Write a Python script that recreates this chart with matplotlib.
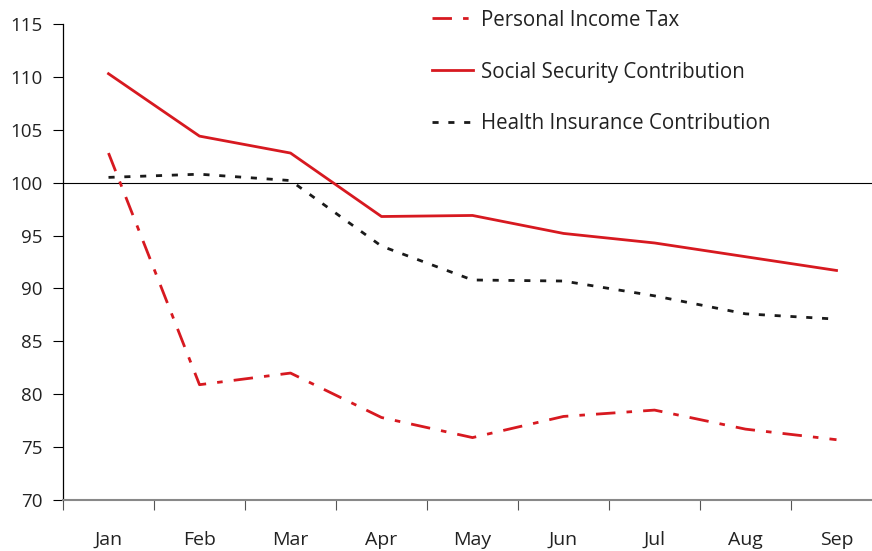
import matplotlib.pyplot as plt
import numpy as np

months = ["Jan", "Feb", "Mar", "Apr", "May", "Jun", "Jul", "Aug", "Sep"]
personal_income_tax = [102.8, 80.9, 82.0, 77.8, 75.9, 77.9, 78.5, 76.7, 75.7]
social_security = [110.3, 104.4, 102.8, 96.8, 96.9, 95.2, 94.3, 93.0, 91.7]
health_insurance = [100.5, 100.8, 100.2, 94.0, 90.8, 90.7, 89.3, 87.6, 87.1]

red = "#d71920"
plt.rcParams['font.family'] = ['Open Sans', 'DejaVu Sans']

fig = plt.figure(figsize=(8.72, 5.51), dpi=100)
ax = fig.add_axes([63/872, 1 - 500/551, 1 - 63/872, (500 - 24)/551])

x = np.arange(len(months))
ax.plot(x, personal_income_tax, color=red, lw=2.0, linestyle=(0, (7, 4, 2, 4)),
        label="Personal Income Tax")
ax.plot(x, social_security, color=red, lw=2.0, label="Social Security Contribution")
ax.plot(x, health_insurance, color="#1a1a1a", lw=2.0, linestyle=(0, (2.2, 3.5)),
        label="Health Insurance Contribution")

ax.axhline(100, color="black", lw=0.8, zorder=1)

ax.set_xlim(-0.5, 8.39)
ax.set_ylim(70, 115)
ax.set_yticks(np.arange(70, 116, 5))
ax.set_xticks(x)
ax.set_xticklabels(months)
ax.set_xticks(np.arange(-0.5, 8.4, 1), minor=True)
ax.tick_params(axis='x', which='major', length=0, pad=22, labelsize=14, labelcolor="#222222")
ax.tick_params(axis='x', which='minor', length=7, width=0.8, color="#555555")
ax.tick_params(axis='y', length=7, width=0.8, pad=8, labelsize=13.5, labelcolor="#222222")

for s in ["top", "right"]:
    ax.spines[s].set_visible(False)
ax.spines["left"].set_linewidth(0.9)
ax.spines["bottom"].set_color("#888888")
ax.spines["bottom"].set_linewidth(1.5)

leg = fig.legend(loc="upper left", bbox_to_anchor=(413/872, 1.016), frameon=False,
                 fontsize=14.8, handlelength=2.0, labelspacing=1.5, handletextpad=0.4)
for t in leg.get_texts():
    t.set_color("#222222")

fig.savefig("out.png", dpi=100)
